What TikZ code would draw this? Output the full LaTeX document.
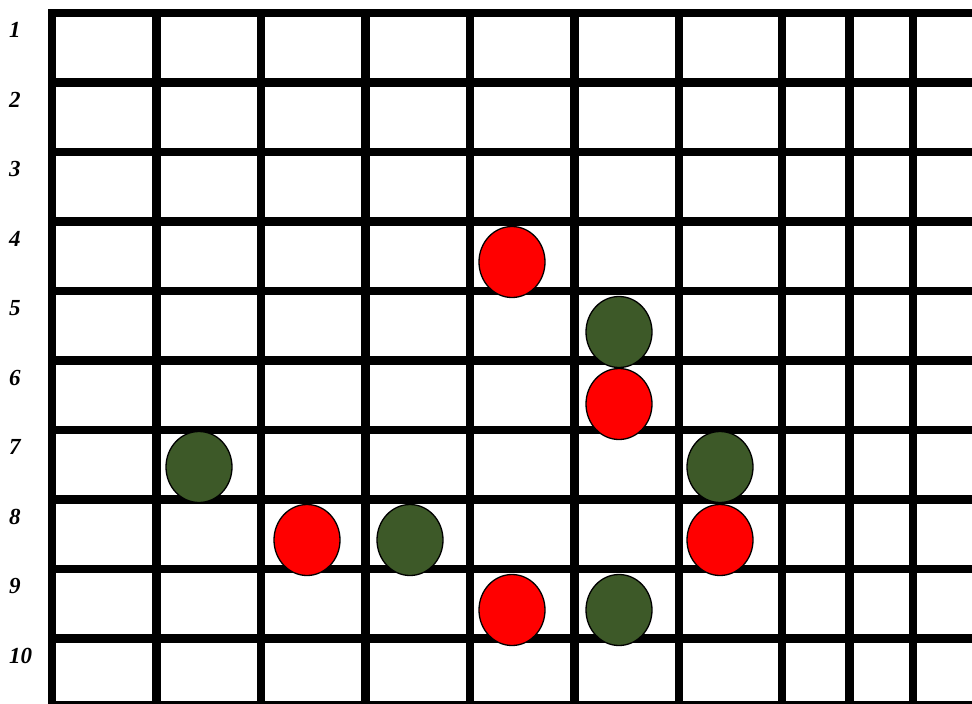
\documentclass[tikz,border=0pt]{standalone}
\usepackage{fontspec}
\setmainfont{Liberation Serif}
\usepackage{tikz}
\usetikzlibrary{shapes.geometric}
\definecolor{stonered}{RGB}{255, 0, 0}
\definecolor{stonegreen}{RGB}{61, 89, 40}

\begin{document}
\begin{tikzpicture}[
        x=1pt, y=-1pt,
        gridline/.style={line width=8.5pt, black},
        stone/.style={ellipse, draw=black, line width=1.3pt, minimum width=66pt, minimum height=71pt, inner sep=0pt},
        redstone/.style={stone, fill=stonered},
        greenstone/.style={stone, fill=stonegreen},
        rowlabel/.style={anchor=west, inner sep=0pt, font=\fontsize{23}{26}\selectfont\bfseries\itshape}
    ]
        \useasboundingbox (0,0) rectangle (972,704);

        % Horizontal lines
        \foreach \i in {0,...,9} {
            \draw[gridline] (48,13+69.5*\i) -- (980,13+69.5*\i);
        }
        \draw[gridline] (48,705) -- (980,705);

        % Vertical lines
        \foreach \x in {52,156.5,261,365.5,470,574.5,679,782,849.5,913} {
            \draw[gridline] (\x,9) -- (\x,710);
        }

        % Row numbers
        \foreach \i in {1,...,10} {
            \node[rowlabel] (row\i) at (9,30+69.5*\i-69.5) {\i};
        }

        % Red stones
        \node[redstone] (r1) at (512,262) {};
        \node[redstone] (r2) at (619,404) {};
        \node[redstone] (r3) at (307,540) {};
        \node[redstone] (r4) at (720,540) {};
        \node[redstone] (r5) at (512,610) {};

        % Green stones
        \node[greenstone] (g1) at (619,332) {};
        \node[greenstone] (g2) at (199,467) {};
        \node[greenstone] (g3) at (720,467) {};
        \node[greenstone] (g4) at (410,540) {};
        \node[greenstone] (g5) at (619,610) {};
    \end{tikzpicture}
\end{document}
